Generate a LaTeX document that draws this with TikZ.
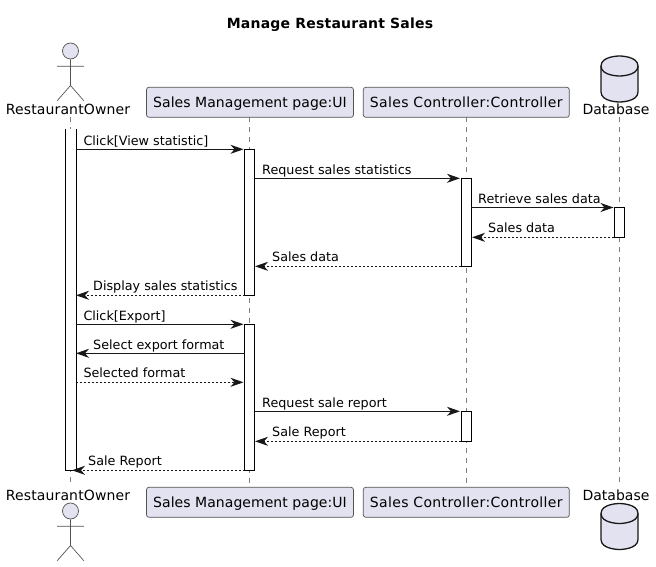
\documentclass[tikz,border=0pt]{standalone}
\usepackage{fontspec}
\setmainfont{DejaVu Sans}
\usetikzlibrary{arrows.meta}
\definecolor{pfill}{HTML}{E2E2F0}
\definecolor{pline}{HTML}{181818}
\tikzset{
  part/.style={draw=pline!75,line width=0.7pt,fill=pfill,rounded corners=2.5pt,inner sep=0pt,minimum height=30pt,text height=10pt,text depth=0pt,text=black},
  actlabel/.style={inner sep=0pt,text height=10pt,text depth=0pt,text=black},
  life/.style={draw=pline!55,line width=0.6pt,dash pattern=on 5pt off 5pt},
  activation/.style={draw=black,line width=1pt,fill=white,minimum width=10pt,inner sep=0pt},
  stick/.style={draw=pline!75,line width=0.7pt},
  dbshape/.style={draw=pline,line width=1.3pt,fill=pfill},
  msg/.style={draw=pline,line width=1pt,-{Stealth[length=13pt,width=9pt,inset=4pt,fill=pline]}},
  ret/.style={msg,dash pattern=on 2pt off 2pt},
  msgtext/.style={anchor=base west,inner sep=0pt,font=\fontsize{12.75}{14}\selectfont,text=black},
}
\newcommand{\msgline}[7]{% name, style, x1, x2, y, text x, text
  \coordinate (#1s) at (#3,#5);
  \coordinate (#1e) at (#4,#5);
  \draw[#2] (#1s) -- (#1e);
  \node[msgtext] (#1t) at (#6,#5-\csname off#2\endcsname) {#7};
}
\newcommand{\offmsg}{3.9}
\newcommand{\offret}{4.5}
\newcommand{\fpart}{\fontsize{14}{15}\selectfont\addfontfeature{LetterSpace=0.4}}
\newcommand{\fctrl}{\fontsize{14}{15}\selectfont\addfontfeature{LetterSpace=2.5}}
\newcommand{\fowner}{\fontsize{14}{15}\selectfont\addfontfeature{LetterSpace=1}}
\begin{document}
\begin{tikzpicture}[x=1pt,y=-1pt]
\useasboundingbox (0,0) rectangle (656,567);
\fill[white] (0,0) rectangle (656,567);

\node[inner sep=0pt,anchor=base,font=\fontsize{14}{15}\selectfont\bfseries\addfontfeature{LetterSpace=1.6}] (title) at (330,28.3) {Manage Restaurant Sales};

% heads and feet
\node[actlabel,font=\fowner] (ownerTop) at (68,110) {RestaurantOwner};
\node[actlabel,font=\fowner] (ownerBot) at (68,495.3) {RestaurantOwner};
\node[actlabel,font=\fontsize{14}{15}\selectfont] (dbTop) at (616,110) {Database};
\node[actlabel,font=\fontsize{14}{15}\selectfont] (dbBot) at (616,495.3) {Database};
\coordinate (ownerTopL) at (70.5,117);
\coordinate (ownerBotL) at (70.5,486);
\coordinate (dbTopL) at (619.5,117);
\coordinate (dbBotL) at (619.5,486);
\coordinate (uiTopL) at (249.5,117.5);
\coordinate (uiBotL) at (249.5,487);
\coordinate (ctTopL) at (466.3,117.5);
\coordinate (ctBotL) at (466.3,487);

% lifelines
\draw[life] (ownerTopL) -- (ownerBotL);
\draw[life] (uiTopL) -- (uiBotL);
\draw[life] (ctTopL) -- (ctBotL);
\draw[life] (dbTopL) -- (dbBotL);

\node[part,minimum width=207pt,font=\fpart] (uiTop) at (250,102.3) {Sales Management page:UI};
\node[part,minimum width=206pt,font=\fctrl] (ctTop) at (466.3,102.3) {Sales Controller:Controller};
\node[part,minimum width=207pt,font=\fpart] (uiBot) at (250,502.3) {Sales Management page:UI};
\node[part,minimum width=206pt,font=\fctrl] (ctBot) at (466.3,502.3) {Sales Controller:Controller};

% actors
\foreach \n/\yy in {a/51,b/511}{
  \node[stick,circle,fill=pfill,minimum size=16pt,inner sep=0pt] (head\n) at (70.5,\yy) {};
  \coordinate (hip\n) at (70.5,\yy+34.5);
  \coordinate (arml\n) at (57.2,\yy+15.3);
  \coordinate (armr\n) at (83.8,\yy+15.3);
  \coordinate (legl\n) at (57.2,\yy+49.7);
  \coordinate (legr\n) at (83.8,\yy+49.7);
  \draw[stick] (head\n) -- (hip\n) (arml\n) -- (armr\n) (legl\n) -- (hip\n) -- (legr\n);
}

% databases
\foreach \yy in {56,503.5}{
  \draw[dbshape] (601,\yy+10) .. controls (601,\yy) and (619.5,\yy) .. (619.5,\yy)
    .. controls (619.5,\yy) and (638,\yy) .. (638,\yy+10) -- (638,\yy+36)
    .. controls (638,\yy+46) and (619.5,\yy+46) .. (619.5,\yy+46)
    .. controls (619.5,\yy+46) and (601,\yy+46) .. (601,\yy+36) -- cycle;
  \draw[dbshape,fill=none] (601,\yy+10) .. controls (601,\yy+20) and (619.5,\yy+20) .. (619.5,\yy+20)
    .. controls (619.5,\yy+20) and (638,\yy+20) .. (638,\yy+10);
}

% activations
\node[activation,draw=none,minimum height=341pt] (actO) at (70.5,299.8) {};
\draw[black,line width=1pt] (actO.north west) -- (actO.south west) -- (actO.south east) -- (actO.north east);
\node[activation,minimum height=146pt] (actU1) at (249.5,222.3) {};
\node[activation,minimum height=146pt] (actU2) at (249.5,397.3) {};
\node[activation,minimum height=88pt] (actC1) at (466.3,222.3) {};
\node[activation,minimum height=30pt] (actC2) at (466.3,426.3) {};
\node[activation,minimum height=30pt] (actD) at (619.3,222.5) {};

% messages
\msgline{m1}{msg}{75.5}{243.5}{149.3}{83.3}{Click[View statistic]}
\msgline{m2}{msg}{254.5}{460}{178.3}{262}{Request sales statistics}
\msgline{m3}{msg}{471.3}{613.5}{207.5}{478}{Retrieve sales data}
\msgline{m4}{ret}{614.3}{472}{237.3}{488}{Sales data}
\msgline{m5}{ret}{461.3}{255}{266.3}{272}{Sales data}
\msgline{m6}{ret}{244.5}{76}{295.3}{93}{Display sales statistics}
\msgline{m7}{msg}{75.5}{243.5}{324.3}{83.3}{Click[Export]}
\msgline{m8}{msg}{244.5}{76}{353.3}{93}{Select export format}
\msgline{m9}{ret}{75.5}{243.5}{382.3}{83.3}{Selected format}
\msgline{m10}{msg}{254.5}{460}{411.3}{262}{Request sale report}
\msgline{m11}{ret}{461.3}{255}{441.3}{272}{Sale Report}
\msgline{m12}{ret}{244.5}{72}{470.3}{88}{Sale Report}
\end{tikzpicture}
\end{document}
